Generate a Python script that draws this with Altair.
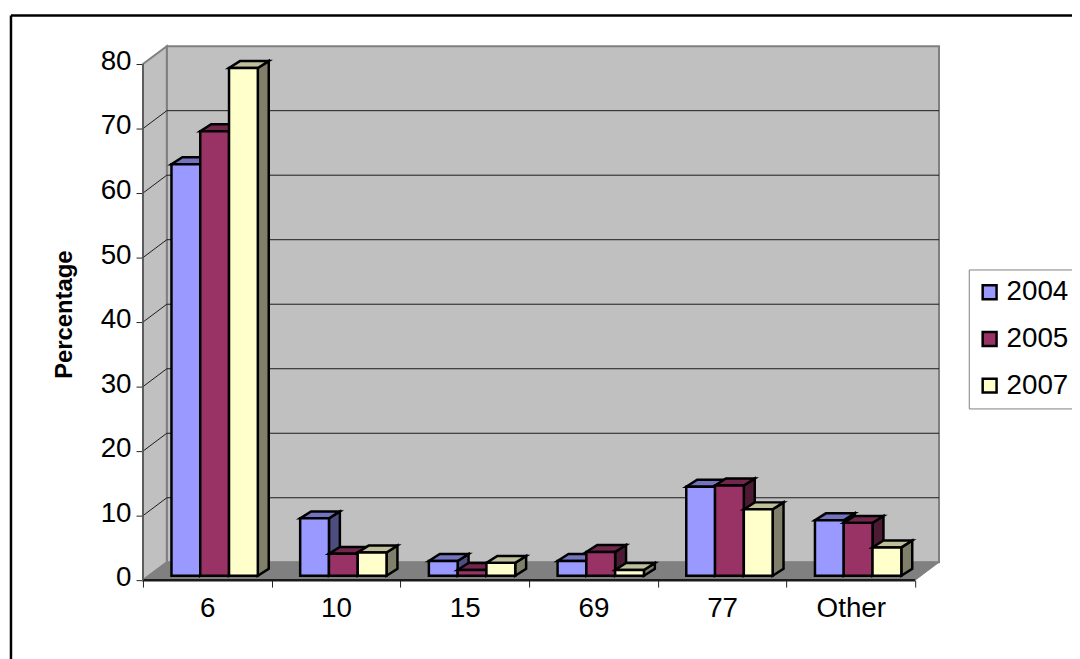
import altair as alt
import pandas as pd

categories = ["6", "10", "15", "69", "77", "Other"]
years = ["2004", "2005", "2007"]
v2004 = [63.8, 8.9, 2.3, 2.3, 13.8, 8.6]
v2005 = [68.9, 3.4, 0.9, 3.7, 14.0, 8.2]
v2007 = [78.7, 3.6, 2.0, 0.9, 10.3, 4.4]
y_ticks = [0, 10, 20, 30, 40, 50, 60, 70, 80]
grid_values = [10, 20, 30, 40, 50, 60, 70]
front_colors = ["#9999FF", "#993366", "#FFFFCC"]
top_colors = ["#7373BF", "#73264D", "#BFBF99"]
side_colors = ["#4D4D80", "#4D1A33", "#80806A"]

FONT = "Liberation Sans"
PX_X = 129.67   # pixels per category
PX_Y = 6.5      # pixels per percent
WALL_DX, WALL_DY = 24 / PX_X, 18 / PX_Y
BAR_X0, BAR_Y0 = 28.7 / PX_X, 4.4 / PX_Y
BAR_W = 29 / PX_X
BAR_DX, BAR_DY = 11 / PX_X, 7 / PX_Y
N = len(categories)
X_DOM = [0, N + WALL_DX]
Y_DOM = [0, y_ticks[-1] + WALL_DY]
x_ticks = [k / 2 for k in range(0, 2 * N + 1)]
cat_js = "[" + ",".join(f"'{c}'" for c in categories) + "]"

x_axis = alt.Axis(
    values=x_ticks, domain=False, grid=False, tickColor="#222222", tickSize=7, tickWidth=1,
    tickOpacity={"condition": {"test": "datum.value % 1 === 0", "value": 1}, "value": 0},
    labelExpr=f"datum.value % 1 === 0 ? '' : {cat_js}[floor(datum.value)]",
    labelFont=FONT, labelFontSize=28, labelColor="black", labelPadding=8,
    labelOverlap=False, labelFlush=False, labelBound=False,
)
y_axis = alt.Axis(
    values=y_ticks, domain=False, grid=False, tickColor="#222222", tickSize=7, tickWidth=1,
    labelFont=FONT, labelFontSize=28, labelColor="black", labelPadding=5, labelOffset=-2.5,
    labelOverlap=False, labelBound=False,
    titleFont=FONT, titleFontSize=24, titleFontWeight="bold", titleColor="black",
    titleX=-67, titleY=270, titleAnchor="middle", titleAlign="center",
)


def X(field="x"):
    return alt.X(f"{field}:Q", scale=alt.Scale(domain=X_DOM, nice=False, zero=False), axis=x_axis, title=None)


def Y(field="y"):
    return alt.Y(f"{field}:Q", scale=alt.Scale(domain=Y_DOM, nice=False, zero=False), axis=y_axis, title="Percentage")


def area(rows, fill, stroke, width):
    return alt.Chart(pd.DataFrame(rows)).mark_area(
        fill=fill, stroke=stroke, strokeWidth=width, opacity=1, orient="vertical"
    ).encode(x=X(), y=Y(), y2=alt.Y2("y2:Q"), detail="key:N")


top = y_ticks[-1]
layers = []

# back wall
layers.append(
    alt.Chart(pd.DataFrame([{"x": WALL_DX, "x2": N + WALL_DX, "y": WALL_DY, "y2": top + WALL_DY}]))
    .mark_rect(fill="#C0C0C0", stroke="#808080", strokeWidth=2)
    .encode(x=X("x"), x2=alt.X2("x2:Q"), y=Y("y"), y2=alt.Y2("y2:Q"))
)
# left wall
layers.append(area(
    [{"key": "w", "x": 0, "y": 0, "y2": top}, {"key": "w", "x": WALL_DX, "y": WALL_DY, "y2": top + WALL_DY}],
    "#C0C0C0", "#808080", 2,
))
# grid lines on back wall and left wall
grid_rows = []
for v in grid_values:
    grid_rows += [
        {"key": v, "x": 0, "y": v},
        {"key": v, "x": WALL_DX, "y": v + WALL_DY},
        {"key": v, "x": N + WALL_DX, "y": v + WALL_DY},
    ]
layers.append(
    alt.Chart(pd.DataFrame(grid_rows)).mark_line(color="#1A1A1A", strokeWidth=1)
    .encode(x=X(), y=Y(), detail="key:N")
)
# floor
layers.append(area(
    [
        {"key": "f", "x": 0, "y": 0, "y2": 0},
        {"key": "f", "x": WALL_DX, "y": 0, "y2": WALL_DY},
        {"key": "f", "x": N, "y": 0, "y2": WALL_DY},
        {"key": "f", "x": N + WALL_DX, "y": WALL_DY, "y2": WALL_DY},
    ],
    "#808080", "#808080", 1,
))
# front axis lines
layers.append(
    alt.Chart(pd.DataFrame([{"x": 0, "y": 0}, {"x": N, "y": 0}]))
    .mark_line(color="#1A1A1A", strokeWidth=2.5).encode(x=X(), y=Y())
)
layers.append(
    alt.Chart(pd.DataFrame([{"x": 0, "y": 0}, {"x": 0, "y": top}]))
    .mark_line(color="#505050", strokeWidth=1.5).encode(x=X(), y=Y())
)

# bars: side, top and front of each series, left to right
color = alt.Color(
    "year:N",
    scale=alt.Scale(domain=years, range=front_colors),
    legend=alt.Legend(
        orient="none", legendX=832, legendY=225, title=None,
        labelFont=FONT, labelFontSize=28, labelColor="black", labelOffset=3, labelLimit=200,
        symbolType="square", symbolSize=196, symbolStrokeColor="black", symbolStrokeWidth=2.5,
        symbolOffset=-2,
        strokeColor="#808080", fillColor="white", padding=9, rowPadding=19,
    ),
)
for j, (year, vals) in enumerate(zip(years, [v2004, v2005, v2007])):
    side_rows, top_rows, front_rows = [], [], []
    for i, v in enumerate(vals):
        xl = i + BAR_X0 + j * BAR_W
        xr = xl + BAR_W
        y0, y1 = BAR_Y0, BAR_Y0 + v
        side_rows += [
            {"key": i, "x": xr, "y": y0, "y2": y1},
            {"key": i, "x": xr + BAR_DX, "y": y0 + BAR_DY, "y2": y1 + BAR_DY},
        ]
        top_rows += [
            {"key": i, "x": xl, "y": y1, "y2": y1},
            {"key": i, "x": xl + BAR_DX, "y": y1, "y2": y1 + BAR_DY},
            {"key": i, "x": xr, "y": y1, "y2": y1 + BAR_DY},
            {"key": i, "x": xr + BAR_DX, "y": y1 + BAR_DY, "y2": y1 + BAR_DY},
        ]
        front_rows.append({"year": year, "x": xl, "x2": xr, "y": y0, "y2": y1})
    layers.append(area(side_rows, side_colors[j], "black", 2.5))
    layers.append(area(top_rows, top_colors[j], "black", 2.5))
    layers.append(
        alt.Chart(pd.DataFrame(front_rows)).mark_rect(stroke="black", strokeWidth=2.5, opacity=1)
        .encode(x=X("x"), x2=alt.X2("x2:Q"), y=Y("y"), y2=alt.Y2("y2:Q"), color=color)
    )

# figure frame, running off the page at right and bottom
layers.append(
    alt.Chart(pd.DataFrame({"a": [0]})).mark_rule(color="black", strokeWidth=2.5)
    .encode(x=alt.value(-133), y=alt.value(-31), y2=alt.value(700))
)
layers.append(
    alt.Chart(pd.DataFrame({"a": [0]})).mark_rule(color="black", strokeWidth=2.5)
    .encode(x=alt.value(-133), x2=alt.value(1000), y=alt.value(-31))
)

chart = alt.layer(*layers).properties(
    width=802, height=538, autosize="none", background="white",
    padding={"left": 136, "top": 36, "right": 134, "bottom": 77},
).configure_view(stroke=None)

chart.save("out.html", embed_options={"renderer": "svg", "actions": False})
